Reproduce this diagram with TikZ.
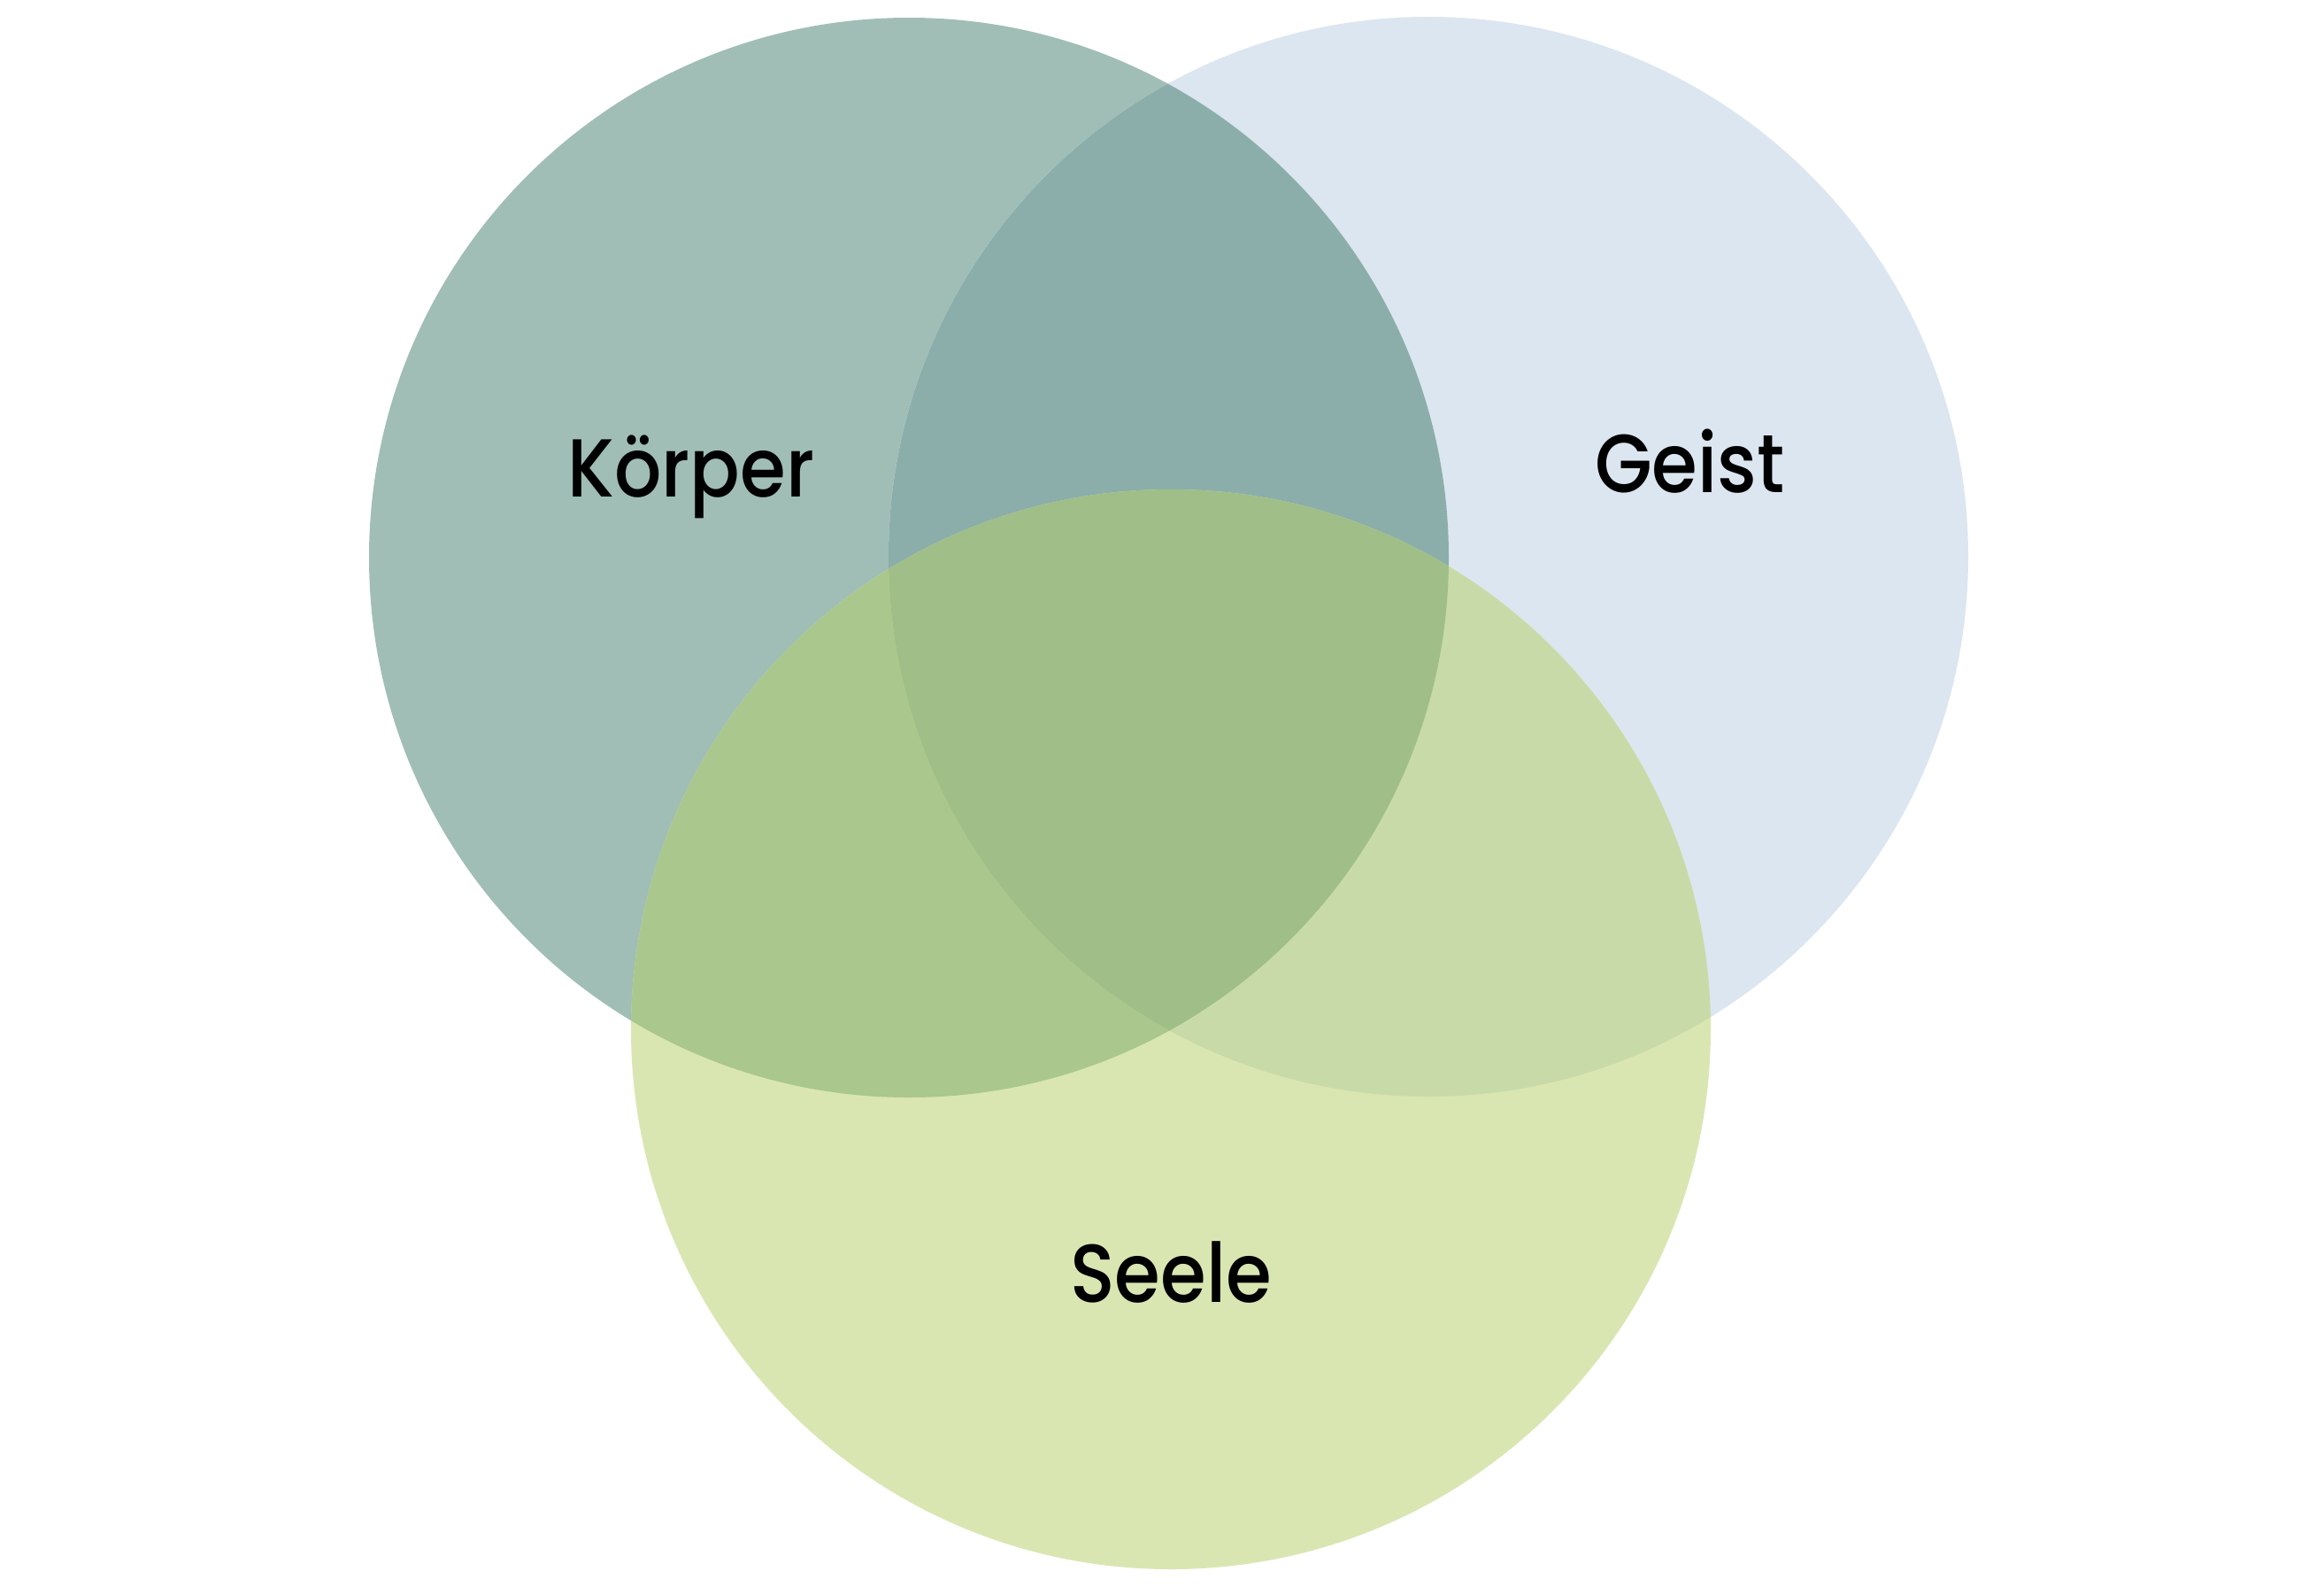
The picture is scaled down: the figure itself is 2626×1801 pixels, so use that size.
\documentclass[tikz,border=0pt]{standalone}
\usepackage{fontspec}
\IfFontExistsTF{Poppins Medium}
  {\setmainfont{Poppins Medium}[FakeStretch=0.9]}
  {\setmainfont{Poppins}[FakeStretch=0.9,FakeBold=1.3]}
\definecolor{cK}{HTML}{A0BEB6}
\definecolor{cG}{HTML}{DCE6F0}
\definecolor{cS}{HTML}{DAE6B2}
\definecolor{cKG}{HTML}{8BAEAB}
\definecolor{cKS}{HTML}{AAC78D}
\definecolor{cGS}{HTML}{C9DAA9}
\definecolor{cKGS}{HTML}{A0BE88}
\begin{document}
\begin{tikzpicture}[x=1pt,y=-1pt,
  lab/.style={font=\fontsize{93}{100}\selectfont, text=black, inner sep=0pt, anchor=base west}]
\useasboundingbox (0,0) rectangle (2626,1801);
\fill[white] (0,0) rectangle (2626,1801);
\def\R{610}
\coordinate (k) at (1027,630);
\coordinate (g) at (1614,629);
\coordinate (s) at (1323,1163);
% single circles
\fill[cK] (k) circle (\R);
\fill[cG] (g) circle (\R);
\fill[cS] (s) circle (\R);
% pairwise overlaps
\begin{scope}
  \clip (k) circle (\R);
  \fill[cKG] (g) circle (\R);
  \fill[cKS] (s) circle (\R);
\end{scope}
\begin{scope}
  \clip (g) circle (\R);
  \fill[cGS] (s) circle (\R);
\end{scope}
% triple overlap
\begin{scope}
  \clip (k) circle (\R);
  \clip (g) circle (\R);
  \fill[cKGS] (s) circle (\R);
\end{scope}
\node[lab] (korper) at (641,561) {Körper};
\node[lab] (geist) at (1802,556) {Geist};
\node[lab] (seele) at (1209,1471) {Seele};
\end{tikzpicture}
\end{document}
